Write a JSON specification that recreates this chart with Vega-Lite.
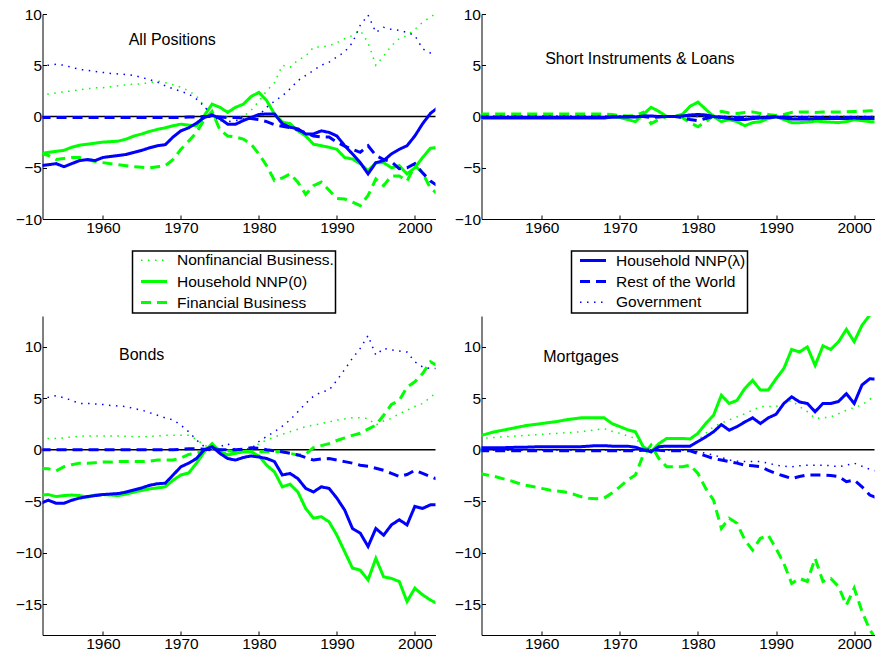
{
  "$schema": "https://vega.github.io/schema/vega-lite/v6.json",
  "padding": {"left": 14.5, "top": 7, "right": 0, "bottom": 0},
  "bounds": "flush",
  "columns": 2,
  "spacing": {"row": 97, "column": 46},
  "data": {
    "values": [
      {"panel": "pos", "year": 1952, "NF": 2.0, "HH0": -3.6, "FB": -3.6, "HHL": -4.8, "RW": -0.1, "GV": 4.9},
      {"panel": "pos", "year": 1953, "NF": 2.2, "HH0": -3.5, "FB": -3.8, "HHL": -4.7, "RW": -0.1, "GV": 5.0},
      {"panel": "pos", "year": 1954, "NF": 2.3, "HH0": -3.4, "FB": -4.2, "HHL": -4.6, "RW": -0.1, "GV": 5.1},
      {"panel": "pos", "year": 1955, "NF": 2.4, "HH0": -3.3, "FB": -4.1, "HHL": -4.9, "RW": -0.1, "GV": 5.0},
      {"panel": "pos", "year": 1956, "NF": 2.5, "HH0": -3.0, "FB": -4.0, "HHL": -4.6, "RW": -0.1, "GV": 4.8},
      {"panel": "pos", "year": 1957, "NF": 2.6, "HH0": -2.8, "FB": -4.0, "HHL": -4.3, "RW": -0.1, "GV": 4.6},
      {"panel": "pos", "year": 1958, "NF": 2.7, "HH0": -2.7, "FB": -4.2, "HHL": -4.2, "RW": -0.1, "GV": 4.5},
      {"panel": "pos", "year": 1959, "NF": 2.8, "HH0": -2.6, "FB": -4.4, "HHL": -4.3, "RW": -0.1, "GV": 4.4},
      {"panel": "pos", "year": 1960, "NF": 2.8, "HH0": -2.5, "FB": -4.5, "HHL": -4.0, "RW": -0.1, "GV": 4.3},
      {"panel": "pos", "year": 1961, "NF": 2.9, "HH0": -2.45, "FB": -4.6, "HHL": -3.9, "RW": -0.1, "GV": 4.2},
      {"panel": "pos", "year": 1962, "NF": 3.0, "HH0": -2.4, "FB": -4.7, "HHL": -3.8, "RW": -0.1, "GV": 4.15},
      {"panel": "pos", "year": 1963, "NF": 3.1, "HH0": -2.2, "FB": -4.8, "HHL": -3.7, "RW": -0.1, "GV": 4.1},
      {"panel": "pos", "year": 1964, "NF": 3.15, "HH0": -1.9, "FB": -4.9, "HHL": -3.5, "RW": -0.1, "GV": 4.0},
      {"panel": "pos", "year": 1965, "NF": 3.2, "HH0": -1.7, "FB": -4.95, "HHL": -3.3, "RW": -0.1, "GV": 3.8},
      {"panel": "pos", "year": 1966, "NF": 3.3, "HH0": -1.45, "FB": -5.0, "HHL": -3.05, "RW": -0.1, "GV": 3.6},
      {"panel": "pos", "year": 1967, "NF": 3.45, "HH0": -1.25, "FB": -4.9, "HHL": -2.85, "RW": -0.1, "GV": 3.35},
      {"panel": "pos", "year": 1968, "NF": 3.3, "HH0": -1.1, "FB": -4.8, "HHL": -2.75, "RW": -0.1, "GV": 3.0},
      {"panel": "pos", "year": 1969, "NF": 3.1, "HH0": -0.9, "FB": -4.2, "HHL": -2.0, "RW": -0.1, "GV": 2.7},
      {"panel": "pos", "year": 1970, "NF": 2.85, "HH0": -0.75, "FB": -3.2, "HHL": -1.4, "RW": -0.1, "GV": 2.45},
      {"panel": "pos", "year": 1971, "NF": 2.5, "HH0": -0.85, "FB": -2.4, "HHL": -1.1, "RW": -0.05, "GV": 2.2},
      {"panel": "pos", "year": 1972, "NF": 2.0, "HH0": -0.9, "FB": -1.55, "HHL": -0.65, "RW": -0.05, "GV": 1.7},
      {"panel": "pos", "year": 1973, "NF": 1.0, "HH0": 0.1, "FB": -0.3, "HHL": -0.1, "RW": 0.0, "GV": 1.0},
      {"panel": "pos", "year": 1974, "NF": -0.1, "HH0": 1.2, "FB": 0.5, "HHL": 0.15, "RW": 0.0, "GV": 0.1},
      {"panel": "pos", "year": 1975, "NF": -0.5, "HH0": 0.9, "FB": -1.3, "HHL": -0.2, "RW": -0.05, "GV": -0.4},
      {"panel": "pos", "year": 1976, "NF": 0.0, "HH0": 0.4, "FB": -1.9, "HHL": -0.75, "RW": -0.1, "GV": -0.5},
      {"panel": "pos", "year": 1977, "NF": -0.1, "HH0": 0.9, "FB": -2.0, "HHL": -0.75, "RW": -0.1, "GV": -0.4},
      {"panel": "pos", "year": 1978, "NF": 0.0, "HH0": 1.2, "FB": -2.2, "HHL": -0.4, "RW": -0.15, "GV": -0.25},
      {"panel": "pos", "year": 1979, "NF": 0.6, "HH0": 1.95, "FB": -2.7, "HHL": -0.1, "RW": -0.2, "GV": -0.1},
      {"panel": "pos", "year": 1980, "NF": 1.5, "HH0": 2.35, "FB": -3.65, "HHL": 0.2, "RW": -0.3, "GV": 0.1},
      {"panel": "pos", "year": 1981, "NF": 2.5, "HH0": 1.55, "FB": -4.8, "HHL": 0.25, "RW": -0.5, "GV": 0.9},
      {"panel": "pos", "year": 1982, "NF": 3.3, "HH0": 0.25, "FB": -6.25, "HHL": 0.25, "RW": -0.8, "GV": 1.5},
      {"panel": "pos", "year": 1983, "NF": 5.0, "HH0": -0.55, "FB": -6.0, "HHL": -0.7, "RW": -0.95, "GV": 2.0},
      {"panel": "pos", "year": 1984, "NF": 4.8, "HH0": -0.7, "FB": -5.6, "HHL": -1.05, "RW": -1.1, "GV": 2.7},
      {"panel": "pos", "year": 1985, "NF": 5.5, "HH0": -1.4, "FB": -6.4, "HHL": -1.2, "RW": -1.3, "GV": 3.5},
      {"panel": "pos", "year": 1986, "NF": 5.9, "HH0": -1.9, "FB": -7.6, "HHL": -1.7, "RW": -1.6, "GV": 4.0},
      {"panel": "pos", "year": 1987, "NF": 6.75, "HH0": -2.7, "FB": -6.75, "HHL": -1.7, "RW": -1.9, "GV": 4.5},
      {"panel": "pos", "year": 1988, "NF": 6.8, "HH0": -2.85, "FB": -6.4, "HHL": -1.4, "RW": -2.0, "GV": 5.0},
      {"panel": "pos", "year": 1989, "NF": 6.9, "HH0": -3.0, "FB": -7.2, "HHL": -1.55, "RW": -2.0, "GV": 5.3},
      {"panel": "pos", "year": 1990, "NF": 7.2, "HH0": -3.2, "FB": -8.0, "HHL": -1.9, "RW": -2.5, "GV": 5.8},
      {"panel": "pos", "year": 1991, "NF": 7.6, "HH0": -4.0, "FB": -8.05, "HHL": -2.85, "RW": -2.9, "GV": 6.3},
      {"panel": "pos", "year": 1992, "NF": 7.9, "HH0": -4.15, "FB": -8.35, "HHL": -3.65, "RW": -3.2, "GV": 7.2},
      {"panel": "pos", "year": 1993, "NF": 8.4, "HH0": -4.6, "FB": -8.7, "HHL": -4.5, "RW": -3.5, "GV": 8.9},
      {"panel": "pos", "year": 1994, "NF": 7.2, "HH0": -5.3, "FB": -7.7, "HHL": -5.6, "RW": -2.85, "GV": 9.9},
      {"panel": "pos", "year": 1995, "NF": 5.0, "HH0": -4.5, "FB": -6.1, "HHL": -4.5, "RW": -3.8, "GV": 8.2},
      {"panel": "pos", "year": 1996, "NF": 5.9, "HH0": -4.5, "FB": -6.75, "HHL": -4.3, "RW": -4.2, "GV": 8.7},
      {"panel": "pos", "year": 1997, "NF": 6.9, "HH0": -5.0, "FB": -5.8, "HHL": -3.65, "RW": -4.4, "GV": 8.5},
      {"panel": "pos", "year": 1998, "NF": 7.6, "HH0": -4.8, "FB": -5.8, "HHL": -3.2, "RW": -5.1, "GV": 8.4},
      {"panel": "pos", "year": 1999, "NF": 7.9, "HH0": -5.6, "FB": -6.3, "HHL": -2.85, "RW": -5.0, "GV": 8.2},
      {"panel": "pos", "year": 2000, "NF": 8.5, "HH0": -5.0, "FB": -4.8, "HHL": -1.9, "RW": -4.6, "GV": 7.9},
      {"panel": "pos", "year": 2001, "NF": 9.2, "HH0": -4.0, "FB": -5.5, "HHL": -0.7, "RW": -5.5, "GV": 6.6},
      {"panel": "pos", "year": 2002, "NF": 9.7, "HH0": -3.1, "FB": -7.0, "HHL": 0.3, "RW": -6.3, "GV": 6.2},
      {"panel": "pos", "year": 2003, "NF": 10.2, "HH0": -3.0, "FB": -7.6, "HHL": 0.9, "RW": -6.8, "GV": 6.1},

      {"panel": "short", "year": 1952, "NF": 0, "HH0": -0.2, "FB": 0.25, "HHL": -0.1, "RW": -0.05, "GV": 0.05},
      {"panel": "short", "year": 1954, "NF": 0, "HH0": -0.2, "FB": 0.25, "HHL": -0.1, "RW": -0.05, "GV": 0.05},
      {"panel": "short", "year": 1956, "NF": 0, "HH0": -0.2, "FB": 0.25, "HHL": -0.1, "RW": -0.05, "GV": 0.05},
      {"panel": "short", "year": 1958, "NF": 0, "HH0": -0.2, "FB": 0.25, "HHL": -0.1, "RW": -0.05, "GV": 0.05},
      {"panel": "short", "year": 1960, "NF": 0, "HH0": -0.2, "FB": 0.25, "HHL": -0.1, "RW": -0.05, "GV": 0.05},
      {"panel": "short", "year": 1962, "NF": 0, "HH0": -0.2, "FB": 0.25, "HHL": -0.1, "RW": -0.05, "GV": 0.05},
      {"panel": "short", "year": 1964, "NF": 0, "HH0": -0.2, "FB": 0.25, "HHL": -0.1, "RW": -0.05, "GV": 0.05},
      {"panel": "short", "year": 1966, "NF": 0, "HH0": -0.2, "FB": 0.25, "HHL": -0.1, "RW": -0.05, "GV": 0.05},
      {"panel": "short", "year": 1968, "NF": 0, "HH0": -0.2, "FB": 0.25, "HHL": -0.1, "RW": -0.05, "GV": 0.05},
      {"panel": "short", "year": 1969, "NF": 0, "HH0": 0.0, "FB": 0.2, "HHL": -0.05, "RW": -0.05, "GV": 0.05},
      {"panel": "short", "year": 1970, "NF": 0, "HH0": -0.1, "FB": 0.1, "HHL": -0.05, "RW": 0, "GV": 0.05},
      {"panel": "short", "year": 1971, "NF": 0, "HH0": -0.3, "FB": 0.05, "HHL": -0.05, "RW": 0, "GV": 0.05},
      {"panel": "short", "year": 1972, "NF": 0, "HH0": -0.5, "FB": 0.1, "HHL": -0.05, "RW": 0, "GV": 0.05},
      {"panel": "short", "year": 1973, "NF": 0, "HH0": 0.2, "FB": 0.4, "HHL": 0.05, "RW": 0, "GV": 0},
      {"panel": "short", "year": 1974, "NF": 0, "HH0": 0.9, "FB": -0.7, "HHL": 0.05, "RW": -0.1, "GV": 0},
      {"panel": "short", "year": 1975, "NF": 0, "HH0": 0.5, "FB": -0.3, "HHL": 0, "RW": -0.05, "GV": 0},
      {"panel": "short", "year": 1976, "NF": 0, "HH0": 0.0, "FB": 0.0, "HHL": 0, "RW": 0, "GV": 0},
      {"panel": "short", "year": 1977, "NF": 0, "HH0": 0.0, "FB": 0.0, "HHL": 0, "RW": 0, "GV": 0},
      {"panel": "short", "year": 1978, "NF": 0, "HH0": 0.2, "FB": -0.1, "HHL": 0.05, "RW": -0.1, "GV": 0},
      {"panel": "short", "year": 1979, "NF": 0, "HH0": 1.0, "FB": -0.6, "HHL": 0.15, "RW": -0.3, "GV": 0},
      {"panel": "short", "year": 1980, "NF": 0, "HH0": 1.4, "FB": -1.0, "HHL": 0.2, "RW": -0.4, "GV": 0},
      {"panel": "short", "year": 1981, "NF": 0, "HH0": 0.7, "FB": -0.5, "HHL": 0.15, "RW": -0.2, "GV": 0},
      {"panel": "short", "year": 1982, "NF": 0, "HH0": 0.0, "FB": 0.1, "HHL": 0, "RW": 0, "GV": 0},
      {"panel": "short", "year": 1983, "NF": 0, "HH0": -0.5, "FB": 0.5, "HHL": -0.1, "RW": -0.05, "GV": 0},
      {"panel": "short", "year": 1984, "NF": 0, "HH0": -0.3, "FB": 0.35, "HHL": -0.2, "RW": -0.1, "GV": 0},
      {"panel": "short", "year": 1985, "NF": 0, "HH0": -0.5, "FB": 0.3, "HHL": -0.3, "RW": -0.1, "GV": 0},
      {"panel": "short", "year": 1986, "NF": 0, "HH0": -0.9, "FB": 0.4, "HHL": -0.3, "RW": -0.1, "GV": 0},
      {"panel": "short", "year": 1987, "NF": 0, "HH0": -0.6, "FB": 0.45, "HHL": -0.2, "RW": -0.1, "GV": 0},
      {"panel": "short", "year": 1988, "NF": 0, "HH0": -0.5, "FB": 0.3, "HHL": -0.15, "RW": -0.05, "GV": 0},
      {"panel": "short", "year": 1989, "NF": 0, "HH0": -0.2, "FB": 0.2, "HHL": -0.1, "RW": -0.05, "GV": 0},
      {"panel": "short", "year": 1990, "NF": 0, "HH0": 0.0, "FB": 0.1, "HHL": -0.05, "RW": 0, "GV": 0},
      {"panel": "short", "year": 1991, "NF": 0, "HH0": -0.3, "FB": 0.2, "HHL": -0.15, "RW": -0.05, "GV": 0},
      {"panel": "short", "year": 1992, "NF": 0, "HH0": -0.6, "FB": 0.4, "HHL": -0.25, "RW": -0.1, "GV": 0},
      {"panel": "short", "year": 1993, "NF": 0, "HH0": -0.6, "FB": 0.45, "HHL": -0.25, "RW": -0.1, "GV": 0},
      {"panel": "short", "year": 1994, "NF": 0, "HH0": -0.55, "FB": 0.45, "HHL": -0.25, "RW": -0.1, "GV": 0},
      {"panel": "short", "year": 1995, "NF": 0, "HH0": -0.45, "FB": 0.4, "HHL": -0.2, "RW": -0.1, "GV": 0},
      {"panel": "short", "year": 1996, "NF": 0, "HH0": -0.5, "FB": 0.45, "HHL": -0.2, "RW": -0.1, "GV": 0},
      {"panel": "short", "year": 1997, "NF": 0, "HH0": -0.55, "FB": 0.45, "HHL": -0.2, "RW": -0.1, "GV": 0},
      {"panel": "short", "year": 1998, "NF": 0, "HH0": -0.6, "FB": 0.45, "HHL": -0.2, "RW": -0.1, "GV": 0},
      {"panel": "short", "year": 1999, "NF": 0, "HH0": -0.5, "FB": 0.45, "HHL": -0.2, "RW": -0.1, "GV": 0},
      {"panel": "short", "year": 2000, "NF": 0, "HH0": -0.3, "FB": 0.5, "HHL": -0.15, "RW": -0.1, "GV": 0},
      {"panel": "short", "year": 2001, "NF": 0, "HH0": -0.4, "FB": 0.5, "HHL": -0.2, "RW": -0.1, "GV": 0},
      {"panel": "short", "year": 2002, "NF": 0, "HH0": -0.5, "FB": 0.55, "HHL": -0.2, "RW": -0.1, "GV": 0},
      {"panel": "short", "year": 2003, "NF": 0, "HH0": -0.5, "FB": 0.55, "HHL": -0.2, "RW": -0.1, "GV": 0},

      {"panel": "bonds", "year": 1952, "NF": 1.0, "HH0": -4.4, "FB": -1.8, "HHL": -5.2, "RW": 0.0, "GV": 5.0},
      {"panel": "bonds", "year": 1953, "NF": 1.1, "HH0": -4.35, "FB": -1.85, "HHL": -4.9, "RW": 0.0, "GV": 5.1},
      {"panel": "bonds", "year": 1954, "NF": 1.1, "HH0": -4.55, "FB": -2.05, "HHL": -5.2, "RW": 0.0, "GV": 5.25},
      {"panel": "bonds", "year": 1955, "NF": 1.15, "HH0": -4.45, "FB": -1.65, "HHL": -5.2, "RW": 0.0, "GV": 5.05},
      {"panel": "bonds", "year": 1956, "NF": 1.25, "HH0": -4.4, "FB": -1.45, "HHL": -4.9, "RW": 0.0, "GV": 4.8},
      {"panel": "bonds", "year": 1957, "NF": 1.3, "HH0": -4.45, "FB": -1.3, "HHL": -4.7, "RW": 0.0, "GV": 4.5},
      {"panel": "bonds", "year": 1958, "NF": 1.35, "HH0": -4.6, "FB": -1.3, "HHL": -4.55, "RW": 0.0, "GV": 4.5},
      {"panel": "bonds", "year": 1959, "NF": 1.35, "HH0": -4.4, "FB": -1.25, "HHL": -4.45, "RW": 0.0, "GV": 4.45},
      {"panel": "bonds", "year": 1960, "NF": 1.35, "HH0": -4.35, "FB": -1.2, "HHL": -4.35, "RW": 0.0, "GV": 4.4},
      {"panel": "bonds", "year": 1961, "NF": 1.35, "HH0": -4.4, "FB": -1.2, "HHL": -4.3, "RW": 0.0, "GV": 4.3},
      {"panel": "bonds", "year": 1962, "NF": 1.35, "HH0": -4.45, "FB": -1.15, "HHL": -4.25, "RW": 0.0, "GV": 4.25},
      {"panel": "bonds", "year": 1963, "NF": 1.3, "HH0": -4.3, "FB": -1.15, "HHL": -4.1, "RW": 0.0, "GV": 4.2},
      {"panel": "bonds", "year": 1964, "NF": 1.3, "HH0": -4.1, "FB": -1.15, "HHL": -3.9, "RW": 0.0, "GV": 4.0},
      {"panel": "bonds", "year": 1965, "NF": 1.25, "HH0": -3.95, "FB": -1.15, "HHL": -3.7, "RW": 0.0, "GV": 3.85},
      {"panel": "bonds", "year": 1966, "NF": 1.3, "HH0": -3.8, "FB": -1.1, "HHL": -3.45, "RW": 0.0, "GV": 3.6},
      {"panel": "bonds", "year": 1967, "NF": 1.35, "HH0": -3.7, "FB": -1.0, "HHL": -3.3, "RW": 0.0, "GV": 3.35},
      {"panel": "bonds", "year": 1968, "NF": 1.4, "HH0": -3.6, "FB": -1.0, "HHL": -3.25, "RW": 0.0, "GV": 3.1},
      {"panel": "bonds", "year": 1969, "NF": 1.4, "HH0": -2.95, "FB": -1.0, "HHL": -2.45, "RW": 0.0, "GV": 2.9},
      {"panel": "bonds", "year": 1970, "NF": 1.4, "HH0": -2.45, "FB": -0.8, "HHL": -1.65, "RW": 0.05, "GV": 2.4},
      {"panel": "bonds", "year": 1971, "NF": 1.4, "HH0": -2.25, "FB": -0.45, "HHL": -1.3, "RW": 0.1, "GV": 1.75},
      {"panel": "bonds", "year": 1972, "NF": 1.0, "HH0": -1.3, "FB": -0.35, "HHL": -0.85, "RW": 0.1, "GV": 0.95},
      {"panel": "bonds", "year": 1973, "NF": 0.45, "HH0": -0.2, "FB": -0.1, "HHL": 0.0, "RW": 0.05, "GV": 0.3},
      {"panel": "bonds", "year": 1974, "NF": 0.1, "HH0": 0.6, "FB": 0.3, "HHL": 0.3, "RW": 0.0, "GV": 0.0},
      {"panel": "bonds", "year": 1975, "NF": -0.35, "HH0": -0.2, "FB": 0.0, "HHL": -0.35, "RW": 0.0, "GV": 0.3},
      {"panel": "bonds", "year": 1976, "NF": -0.3, "HH0": -0.5, "FB": -0.1, "HHL": -0.85, "RW": 0.0, "GV": 0.6},
      {"panel": "bonds", "year": 1977, "NF": -0.2, "HH0": -0.35, "FB": -0.2, "HHL": -1.0, "RW": 0.0, "GV": 0.0},
      {"panel": "bonds", "year": 1978, "NF": -0.1, "HH0": -0.2, "FB": -0.2, "HHL": -0.75, "RW": 0.05, "GV": 0.05},
      {"panel": "bonds", "year": 1979, "NF": 0.0, "HH0": -0.2, "FB": -0.2, "HHL": -0.6, "RW": 0.2, "GV": 0.1},
      {"panel": "bonds", "year": 1980, "NF": 0.6, "HH0": -0.6, "FB": -0.2, "HHL": -0.7, "RW": 0.15, "GV": 0.8},
      {"panel": "bonds", "year": 1981, "NF": 0.95, "HH0": -1.5, "FB": -0.2, "HHL": -0.85, "RW": 0.0, "GV": 1.3},
      {"panel": "bonds", "year": 1982, "NF": 1.25, "HH0": -2.15, "FB": -0.2, "HHL": -1.15, "RW": -0.1, "GV": 1.75},
      {"panel": "bonds", "year": 1983, "NF": 1.5, "HH0": -3.6, "FB": -0.2, "HHL": -2.45, "RW": -0.2, "GV": 2.3},
      {"panel": "bonds", "year": 1984, "NF": 1.75, "HH0": -3.35, "FB": -0.35, "HHL": -2.3, "RW": -0.35, "GV": 2.9},
      {"panel": "bonds", "year": 1985, "NF": 2.0, "HH0": -4.1, "FB": -0.5, "HHL": -2.8, "RW": -0.5, "GV": 3.7},
      {"panel": "bonds", "year": 1986, "NF": 2.25, "HH0": -5.7, "FB": -0.45, "HHL": -3.75, "RW": -0.75, "GV": 4.5},
      {"panel": "bonds", "year": 1987, "NF": 2.4, "HH0": -6.65, "FB": 0.2, "HHL": -4.1, "RW": -1.0, "GV": 5.2},
      {"panel": "bonds", "year": 1988, "NF": 2.55, "HH0": -6.5, "FB": 0.4, "HHL": -3.6, "RW": -0.9, "GV": 5.6},
      {"panel": "bonds", "year": 1989, "NF": 2.7, "HH0": -7.0, "FB": 0.6, "HHL": -3.75, "RW": -0.85, "GV": 5.8},
      {"panel": "bonds", "year": 1990, "NF": 2.9, "HH0": -8.3, "FB": 0.9, "HHL": -4.7, "RW": -1.0, "GV": 6.75},
      {"panel": "bonds", "year": 1991, "NF": 3.0, "HH0": -9.9, "FB": 1.15, "HHL": -5.85, "RW": -1.15, "GV": 7.8},
      {"panel": "bonds", "year": 1992, "NF": 3.1, "HH0": -11.5, "FB": 1.4, "HHL": -7.65, "RW": -1.3, "GV": 8.9},
      {"panel": "bonds", "year": 1993, "NF": 3.1, "HH0": -11.7, "FB": 1.6, "HHL": -8.1, "RW": -1.5, "GV": 9.85},
      {"panel": "bonds", "year": 1994, "NF": 3.05, "HH0": -12.65, "FB": 2.0, "HHL": -9.4, "RW": -1.6, "GV": 11.1},
      {"panel": "bonds", "year": 1995, "NF": 2.4, "HH0": -10.55, "FB": 2.4, "HHL": -7.65, "RW": -1.8, "GV": 9.2},
      {"panel": "bonds", "year": 1996, "NF": 2.8, "HH0": -12.35, "FB": 3.35, "HHL": -8.3, "RW": -2.0, "GV": 9.85},
      {"panel": "bonds", "year": 1997, "NF": 3.05, "HH0": -12.5, "FB": 4.4, "HHL": -7.3, "RW": -2.3, "GV": 9.7},
      {"panel": "bonds", "year": 1998, "NF": 3.5, "HH0": -12.8, "FB": 4.8, "HHL": -6.8, "RW": -2.6, "GV": 9.6},
      {"panel": "bonds", "year": 1999, "NF": 3.85, "HH0": -14.75, "FB": 6.1, "HHL": -7.3, "RW": -2.4, "GV": 9.5},
      {"panel": "bonds", "year": 2000, "NF": 4.2, "HH0": -13.45, "FB": 6.6, "HHL": -5.5, "RW": -2.0, "GV": 8.55},
      {"panel": "bonds", "year": 2001, "NF": 4.5, "HH0": -14.1, "FB": 7.4, "HHL": -5.7, "RW": -2.3, "GV": 8.05},
      {"panel": "bonds", "year": 2002, "NF": 5.1, "HH0": -14.6, "FB": 8.55, "HHL": -5.35, "RW": -2.6, "GV": 7.9},
      {"panel": "bonds", "year": 2003, "NF": 5.7, "HH0": -15.0, "FB": 8.1, "HHL": -5.35, "RW": -2.9, "GV": 7.9},

      {"panel": "mort", "year": 1952, "NF": 1.1, "HH0": 1.35, "FB": -2.3, "HHL": 0.2, "RW": -0.1, "GV": -0.05},
      {"panel": "mort", "year": 1953, "NF": 1.15, "HH0": 1.55, "FB": -2.45, "HHL": 0.2, "RW": -0.1, "GV": -0.05},
      {"panel": "mort", "year": 1954, "NF": 1.2, "HH0": 1.75, "FB": -2.6, "HHL": 0.2, "RW": -0.1, "GV": -0.05},
      {"panel": "mort", "year": 1955, "NF": 1.25, "HH0": 1.9, "FB": -2.8, "HHL": 0.2, "RW": -0.1, "GV": -0.05},
      {"panel": "mort", "year": 1956, "NF": 1.3, "HH0": 2.05, "FB": -3.0, "HHL": 0.22, "RW": -0.1, "GV": -0.05},
      {"panel": "mort", "year": 1957, "NF": 1.35, "HH0": 2.2, "FB": -3.25, "HHL": 0.25, "RW": -0.1, "GV": -0.05},
      {"panel": "mort", "year": 1958, "NF": 1.4, "HH0": 2.35, "FB": -3.45, "HHL": 0.25, "RW": -0.1, "GV": -0.05},
      {"panel": "mort", "year": 1959, "NF": 1.45, "HH0": 2.45, "FB": -3.6, "HHL": 0.28, "RW": -0.1, "GV": -0.05},
      {"panel": "mort", "year": 1960, "NF": 1.5, "HH0": 2.55, "FB": -3.75, "HHL": 0.3, "RW": -0.1, "GV": -0.05},
      {"panel": "mort", "year": 1961, "NF": 1.55, "HH0": 2.65, "FB": -3.9, "HHL": 0.3, "RW": -0.1, "GV": -0.05},
      {"panel": "mort", "year": 1962, "NF": 1.6, "HH0": 2.75, "FB": -4.0, "HHL": 0.3, "RW": -0.1, "GV": -0.05},
      {"panel": "mort", "year": 1963, "NF": 1.65, "HH0": 2.9, "FB": -4.1, "HHL": 0.3, "RW": -0.1, "GV": -0.05},
      {"panel": "mort", "year": 1964, "NF": 1.7, "HH0": 3.0, "FB": -4.3, "HHL": 0.3, "RW": -0.1, "GV": -0.05},
      {"panel": "mort", "year": 1965, "NF": 1.75, "HH0": 3.1, "FB": -4.55, "HHL": 0.3, "RW": -0.1, "GV": -0.05},
      {"panel": "mort", "year": 1966, "NF": 1.85, "HH0": 3.1, "FB": -4.7, "HHL": 0.35, "RW": -0.1, "GV": -0.05},
      {"panel": "mort", "year": 1967, "NF": 1.95, "HH0": 3.1, "FB": -4.75, "HHL": 0.4, "RW": -0.1, "GV": -0.05},
      {"panel": "mort", "year": 1968, "NF": 2.05, "HH0": 3.1, "FB": -4.7, "HHL": 0.4, "RW": -0.1, "GV": -0.05},
      {"panel": "mort", "year": 1969, "NF": 1.8, "HH0": 2.55, "FB": -4.2, "HHL": 0.35, "RW": -0.1, "GV": -0.05},
      {"panel": "mort", "year": 1970, "NF": 1.6, "HH0": 2.25, "FB": -3.6, "HHL": 0.35, "RW": -0.1, "GV": -0.05},
      {"panel": "mort", "year": 1971, "NF": 1.35, "HH0": 1.95, "FB": -2.95, "HHL": 0.35, "RW": -0.1, "GV": -0.05},
      {"panel": "mort", "year": 1972, "NF": 1.1, "HH0": 1.75, "FB": -2.45, "HHL": 0.25, "RW": -0.1, "GV": -0.05},
      {"panel": "mort", "year": 1973, "NF": 0.3, "HH0": 0.3, "FB": -0.5, "HHL": 0.0, "RW": -0.05, "GV": 0.0},
      {"panel": "mort", "year": 1974, "NF": 0.0, "HH0": -0.2, "FB": 0.45, "HHL": -0.2, "RW": 0.0, "GV": 0.0},
      {"panel": "mort", "year": 1975, "NF": 0.15, "HH0": 0.6, "FB": -0.85, "HHL": 0.3, "RW": -0.05, "GV": -0.05},
      {"panel": "mort", "year": 1976, "NF": 0.3, "HH0": 1.1, "FB": -1.65, "HHL": 0.35, "RW": -0.1, "GV": -0.05},
      {"panel": "mort", "year": 1977, "NF": 0.3, "HH0": 1.1, "FB": -1.65, "HHL": 0.35, "RW": -0.1, "GV": -0.05},
      {"panel": "mort", "year": 1978, "NF": 0.3, "HH0": 1.1, "FB": -1.65, "HHL": 0.35, "RW": -0.1, "GV": -0.05},
      {"panel": "mort", "year": 1979, "NF": 0.3, "HH0": 1.05, "FB": -1.5, "HHL": 0.35, "RW": -0.1, "GV": -0.05},
      {"panel": "mort", "year": 1980, "NF": 0.95, "HH0": 1.6, "FB": -2.3, "HHL": 0.8, "RW": -0.35, "GV": -0.2},
      {"panel": "mort", "year": 1981, "NF": 1.6, "HH0": 2.55, "FB": -3.75, "HHL": 1.25, "RW": -0.6, "GV": -0.35},
      {"panel": "mort", "year": 1982, "NF": 2.25, "HH0": 3.35, "FB": -4.9, "HHL": 1.75, "RW": -0.85, "GV": -0.5},
      {"panel": "mort", "year": 1983, "NF": 2.6, "HH0": 5.3, "FB": -7.65, "HHL": 2.45, "RW": -1.0, "GV": -0.75},
      {"panel": "mort", "year": 1984, "NF": 2.9, "HH0": 4.5, "FB": -6.65, "HHL": 1.9, "RW": -1.15, "GV": -1.0},
      {"panel": "mort", "year": 1985, "NF": 3.2, "HH0": 4.8, "FB": -7.15, "HHL": 2.25, "RW": -1.3, "GV": -1.1},
      {"panel": "mort", "year": 1986, "NF": 3.5, "HH0": 5.95, "FB": -8.75, "HHL": 2.7, "RW": -1.5, "GV": -1.15},
      {"panel": "mort", "year": 1987, "NF": 3.85, "HH0": 6.75, "FB": -9.75, "HHL": 3.1, "RW": -1.55, "GV": -1.15},
      {"panel": "mort", "year": 1988, "NF": 4.2, "HH0": 5.8, "FB": -8.6, "HHL": 2.55, "RW": -1.65, "GV": -1.15},
      {"panel": "mort", "year": 1989, "NF": 4.2, "HH0": 5.8, "FB": -8.3, "HHL": 3.1, "RW": -2.0, "GV": -1.3},
      {"panel": "mort", "year": 1990, "NF": 4.2, "HH0": 6.9, "FB": -9.6, "HHL": 3.45, "RW": -2.3, "GV": -1.5},
      {"panel": "mort", "year": 1991, "NF": 4.5, "HH0": 7.9, "FB": -11.05, "HHL": 4.5, "RW": -2.55, "GV": -1.6},
      {"panel": "mort", "year": 1992, "NF": 4.8, "HH0": 9.75, "FB": -13.0, "HHL": 5.15, "RW": -2.8, "GV": -1.65},
      {"panel": "mort", "year": 1993, "NF": 4.2, "HH0": 9.5, "FB": -12.5, "HHL": 4.65, "RW": -2.6, "GV": -1.55},
      {"panel": "mort", "year": 1994, "NF": 3.7, "HH0": 10.0, "FB": -12.8, "HHL": 4.5, "RW": -2.45, "GV": -1.5},
      {"panel": "mort", "year": 1995, "NF": 3.05, "HH0": 8.2, "FB": -10.55, "HHL": 3.7, "RW": -2.45, "GV": -1.5},
      {"panel": "mort", "year": 1996, "NF": 3.1, "HH0": 10.1, "FB": -12.8, "HHL": 4.5, "RW": -2.45, "GV": -1.5},
      {"panel": "mort", "year": 1997, "NF": 3.2, "HH0": 9.75, "FB": -12.5, "HHL": 4.5, "RW": -2.5, "GV": -1.55},
      {"panel": "mort", "year": 1998, "NF": 3.5, "HH0": 10.5, "FB": -13.3, "HHL": 4.7, "RW": -2.6, "GV": -1.65},
      {"panel": "mort", "year": 1999, "NF": 3.85, "HH0": 11.7, "FB": -15.1, "HHL": 5.45, "RW": -3.1, "GV": -1.5},
      {"panel": "mort", "year": 2000, "NF": 4.1, "HH0": 10.5, "FB": -13.45, "HHL": 4.5, "RW": -2.95, "GV": -1.3},
      {"panel": "mort", "year": 2001, "NF": 4.35, "HH0": 12.1, "FB": -15.7, "HHL": 6.3, "RW": -3.6, "GV": -1.6},
      {"panel": "mort", "year": 2002, "NF": 4.9, "HH0": 13.1, "FB": -17.5, "HHL": 6.9, "RW": -4.4, "GV": -1.9},
      {"panel": "mort", "year": 2003, "NF": 5.5, "HH0": 13.6, "FB": -18.6, "HHL": 6.85, "RW": -4.7, "GV": -2.1}
    ]
  },
  "concat": [
    {
      "width": 393,
      "height": 205,
      "layer": [
        {
          "data": {"values": [{}]},
          "mark": {"type": "rule", "color": "black", "strokeWidth": 1.3},
          "encoding": {"y": {"datum": 0, "type": "quantitative"}}
        },
        {
          "transform": [
            {"filter": "datum.panel == 'pos'"},
            {"fold": ["NF", "HH0", "FB"], "as": ["series", "value"]}
          ],
          "mark": {"type": "line", "clip": true},
          "encoding": {
            "x": {"field": "year", "type": "quantitative", "scale": {"domain": [1952.25, 2002.65], "nice": false, "zero": false}, "axis": {"values": [1960, 1970, 1980, 1990, 2000], "format": "d", "title": null}},
            "y": {"field": "value", "type": "quantitative", "scale": {"domain": [-10, 10], "nice": false}, "axis": {"values": [-10, -5, 0, 5, 10], "title": null}},
            "color": {"field": "series", "type": "nominal", "scale": {"domain": ["NF", "HH0", "FB"], "range": ["#00ff00", "#00ff00", "#00ff00"]},
              "legend": {"orient": "none", "legendX": 90, "legendY": 237, "title": null, "symbolType": "M-2,0H2", "symbolSize": 169, "symbolOffset": 12, "labelOffset": 15, "labelFontSize": 15.5, "labelLimit": 300, "rowPadding": 4, "padding": 1.5, "strokeColor": "black", "fillColor": "white",
                "labelExpr": "datum.label == 'NF' ? 'Nonfinancial Business.' : datum.label == 'HH0' ? 'Household NNP(0)' : 'Financial Business'"}},
            "strokeDash": {"field": "series", "type": "nominal", "scale": {"domain": ["NF", "HH0", "FB"], "range": [[1.5, 5.5], [1, 0], [10, 6]]},
              "legend": {"orient": "none", "legendX": 90, "legendY": 237, "title": null, "symbolType": "M-2,0H2", "symbolSize": 169, "symbolOffset": 12, "labelOffset": 15, "labelFontSize": 15.5, "labelLimit": 300, "rowPadding": 4, "padding": 1.5, "strokeColor": "black", "fillColor": "white",
                "labelExpr": "datum.label == 'NF' ? 'Nonfinancial Business.' : datum.label == 'HH0' ? 'Household NNP(0)' : 'Financial Business'"}},
            "strokeWidth": {"field": "series", "type": "nominal", "scale": {"type": "ordinal", "domain": ["NF", "HH0", "FB"], "range": [1.5, 3, 3]},
              "legend": {"orient": "none", "legendX": 90, "legendY": 237, "title": null, "symbolType": "M-2,0H2", "symbolSize": 169, "symbolOffset": 12, "labelOffset": 15, "labelFontSize": 15.5, "labelLimit": 300, "rowPadding": 4, "padding": 1.5, "strokeColor": "black", "fillColor": "white",
                "labelExpr": "datum.label == 'NF' ? 'Nonfinancial Business.' : datum.label == 'HH0' ? 'Household NNP(0)' : 'Financial Business'"}}
          }
        },
        {
          "transform": [
            {"filter": "datum.panel == 'pos'"},
            {"fold": ["HHL", "RW", "GV"], "as": ["series", "value"]}
          ],
          "mark": {"type": "line", "clip": true},
          "encoding": {
            "x": {"field": "year", "type": "quantitative"},
            "y": {"field": "value", "type": "quantitative"},
            "color": {"field": "series", "type": "nominal", "scale": {"domain": ["HHL", "RW", "GV"], "range": ["#0000ff", "#0000ff", "#0000ff"]},
              "legend": {"orient": "none", "legendX": 529, "legendY": 237, "title": null, "symbolType": "M-2,0H2", "symbolSize": 169, "symbolOffset": 12, "labelOffset": 15, "labelFontSize": 15.5, "labelLimit": 300, "rowPadding": 4, "padding": 1.5, "strokeColor": "black", "fillColor": "white",
                "labelExpr": "datum.label == 'HHL' ? 'Household NNP(λ)' : datum.label == 'RW' ? 'Rest of the World' : 'Government'"}},
            "strokeDash": {"field": "series", "type": "nominal", "scale": {"domain": ["HHL", "RW", "GV"], "range": [[1, 0], [10, 6], [1.5, 5.5]]},
              "legend": {"orient": "none", "legendX": 529, "legendY": 237, "title": null, "symbolType": "M-2,0H2", "symbolSize": 169, "symbolOffset": 12, "labelOffset": 15, "labelFontSize": 15.5, "labelLimit": 300, "rowPadding": 4, "padding": 1.5, "strokeColor": "black", "fillColor": "white",
                "labelExpr": "datum.label == 'HHL' ? 'Household NNP(λ)' : datum.label == 'RW' ? 'Rest of the World' : 'Government'"}},
            "strokeWidth": {"field": "series", "type": "nominal", "scale": {"type": "ordinal", "domain": ["HHL", "RW", "GV"], "range": [3, 3, 1.5]},
              "legend": {"orient": "none", "legendX": 529, "legendY": 237, "title": null, "symbolType": "M-2,0H2", "symbolSize": 169, "symbolOffset": 12, "labelOffset": 15, "labelFontSize": 15.5, "labelLimit": 300, "rowPadding": 4, "padding": 1.5, "strokeColor": "black", "fillColor": "white",
                "labelExpr": "datum.label == 'HHL' ? 'Household NNP(λ)' : datum.label == 'RW' ? 'Rest of the World' : 'Government'"}}
          }
        },
        {
          "data": {"values": [{"label": "All Positions"}]},
          "mark": {"type": "text", "align": "left", "baseline": "middle", "fontSize": 16},
          "encoding": {"text": {"field": "label"}, "x": {"datum": 1963.3, "type": "quantitative"}, "y": {"datum": 7.5, "type": "quantitative"}}
        }
      ],
      "resolve": {"scale": {"color": "independent", "strokeDash": "independent", "strokeWidth": "independent"}}
    },
    {
      "width": 393,
      "height": 205,
      "layer": [
        {
          "data": {"values": [{}]},
          "mark": {"type": "rule", "color": "black", "strokeWidth": 1.3},
          "encoding": {"y": {"datum": 0, "type": "quantitative"}}
        },
        {
          "transform": [
            {"filter": "datum.panel == 'short'"},
            {"fold": ["NF", "HH0", "FB"], "as": ["series", "value"]}
          ],
          "mark": {"type": "line", "clip": true},
          "encoding": {
            "x": {"field": "year", "type": "quantitative", "scale": {"domain": [1952.3, 2002.6], "nice": false, "zero": false}, "axis": {"values": [1960, 1970, 1980, 1990, 2000], "format": "d", "title": null}},
            "y": {"field": "value", "type": "quantitative", "scale": {"domain": [-10, 10], "nice": false}, "axis": {"values": [-10, -5, 0, 5, 10], "title": null}},
            "color": {"field": "series", "type": "nominal", "scale": {"domain": ["NF", "HH0", "FB"], "range": ["#00ff00", "#00ff00", "#00ff00"]}, "legend": null},
            "strokeDash": {"field": "series", "type": "nominal", "scale": {"domain": ["NF", "HH0", "FB"], "range": [[1.5, 5.5], [1, 0], [10, 6]]}, "legend": null},
            "strokeWidth": {"field": "series", "type": "nominal", "scale": {"type": "ordinal", "domain": ["NF", "HH0", "FB"], "range": [1.5, 3, 3]}, "legend": null}
          }
        },
        {
          "transform": [
            {"filter": "datum.panel == 'short'"},
            {"fold": ["HHL", "RW", "GV"], "as": ["series", "value"]}
          ],
          "mark": {"type": "line", "clip": true},
          "encoding": {
            "x": {"field": "year", "type": "quantitative"},
            "y": {"field": "value", "type": "quantitative"},
            "color": {"field": "series", "type": "nominal", "scale": {"domain": ["HHL", "RW", "GV"], "range": ["#0000ff", "#0000ff", "#0000ff"]}, "legend": null},
            "strokeDash": {"field": "series", "type": "nominal", "scale": {"domain": ["HHL", "RW", "GV"], "range": [[1, 0], [10, 6], [1.5, 5.5]]}, "legend": null},
            "strokeWidth": {"field": "series", "type": "nominal", "scale": {"type": "ordinal", "domain": ["HHL", "RW", "GV"], "range": [3, 3, 1.5]}, "legend": null}
          }
        },
        {
          "data": {"values": [{"label": "Short Instruments & Loans"}]},
          "mark": {"type": "text", "align": "left", "baseline": "middle", "fontSize": 16},
          "encoding": {"text": {"field": "label"}, "x": {"datum": 1960.45, "type": "quantitative"}, "y": {"datum": 5.6, "type": "quantitative"}}
        }
      ],
      "resolve": {"scale": {"color": "independent", "strokeDash": "independent", "strokeWidth": "independent"}}
    },
    {
      "width": 393,
      "height": 319,
      "layer": [
        {
          "data": {"values": [{}]},
          "mark": {"type": "rule", "color": "black", "strokeWidth": 1.3},
          "encoding": {"y": {"datum": 0, "type": "quantitative"}}
        },
        {
          "transform": [
            {"filter": "datum.panel == 'bonds'"},
            {"fold": ["NF", "HH0", "FB"], "as": ["series", "value"]}
          ],
          "mark": {"type": "line", "clip": true},
          "encoding": {
            "x": {"field": "year", "type": "quantitative", "scale": {"domain": [1952.25, 2002.65], "nice": false, "zero": false}, "axis": {"values": [1960, 1970, 1980, 1990, 2000], "format": "d", "title": null}},
            "y": {"field": "value", "type": "quantitative", "scale": {"domain": [-18, 13], "nice": false}, "axis": {"values": [-15, -10, -5, 0, 5, 10], "title": null}},
            "color": {"field": "series", "type": "nominal", "scale": {"domain": ["NF", "HH0", "FB"], "range": ["#00ff00", "#00ff00", "#00ff00"]}, "legend": null},
            "strokeDash": {"field": "series", "type": "nominal", "scale": {"domain": ["NF", "HH0", "FB"], "range": [[1.5, 5.5], [1, 0], [10, 6]]}, "legend": null},
            "strokeWidth": {"field": "series", "type": "nominal", "scale": {"type": "ordinal", "domain": ["NF", "HH0", "FB"], "range": [1.5, 3, 3]}, "legend": null}
          }
        },
        {
          "transform": [
            {"filter": "datum.panel == 'bonds'"},
            {"fold": ["HHL", "RW", "GV"], "as": ["series", "value"]}
          ],
          "mark": {"type": "line", "clip": true},
          "encoding": {
            "x": {"field": "year", "type": "quantitative"},
            "y": {"field": "value", "type": "quantitative"},
            "color": {"field": "series", "type": "nominal", "scale": {"domain": ["HHL", "RW", "GV"], "range": ["#0000ff", "#0000ff", "#0000ff"]}, "legend": null},
            "strokeDash": {"field": "series", "type": "nominal", "scale": {"domain": ["HHL", "RW", "GV"], "range": [[1, 0], [10, 6], [1.5, 5.5]]}, "legend": null},
            "strokeWidth": {"field": "series", "type": "nominal", "scale": {"type": "ordinal", "domain": ["HHL", "RW", "GV"], "range": [3, 3, 1.5]}, "legend": null}
          }
        },
        {
          "data": {"values": [{"label": "Bonds"}]},
          "mark": {"type": "text", "align": "left", "baseline": "middle", "fontSize": 16},
          "encoding": {"text": {"field": "label"}, "x": {"datum": 1962.06, "type": "quantitative"}, "y": {"datum": 9.25, "type": "quantitative"}}
        }
      ],
      "resolve": {"scale": {"color": "independent", "strokeDash": "independent", "strokeWidth": "independent"}}
    },
    {
      "width": 393,
      "height": 319,
      "layer": [
        {
          "data": {"values": [{}]},
          "mark": {"type": "rule", "color": "black", "strokeWidth": 1.3},
          "encoding": {"y": {"datum": 0, "type": "quantitative"}}
        },
        {
          "transform": [
            {"filter": "datum.panel == 'mort'"},
            {"fold": ["NF", "HH0", "FB"], "as": ["series", "value"]}
          ],
          "mark": {"type": "line", "clip": true},
          "encoding": {
            "x": {"field": "year", "type": "quantitative", "scale": {"domain": [1952.3, 2002.6], "nice": false, "zero": false}, "axis": {"values": [1960, 1970, 1980, 1990, 2000], "format": "d", "title": null}},
            "y": {"field": "value", "type": "quantitative", "scale": {"domain": [-18, 13], "nice": false}, "axis": {"values": [-15, -10, -5, 0, 5, 10], "title": null}},
            "color": {"field": "series", "type": "nominal", "scale": {"domain": ["NF", "HH0", "FB"], "range": ["#00ff00", "#00ff00", "#00ff00"]}, "legend": null},
            "strokeDash": {"field": "series", "type": "nominal", "scale": {"domain": ["NF", "HH0", "FB"], "range": [[1.5, 5.5], [1, 0], [10, 6]]}, "legend": null},
            "strokeWidth": {"field": "series", "type": "nominal", "scale": {"type": "ordinal", "domain": ["NF", "HH0", "FB"], "range": [1.5, 3, 3]}, "legend": null}
          }
        },
        {
          "transform": [
            {"filter": "datum.panel == 'mort'"},
            {"fold": ["HHL", "RW", "GV"], "as": ["series", "value"]}
          ],
          "mark": {"type": "line", "clip": true},
          "encoding": {
            "x": {"field": "year", "type": "quantitative"},
            "y": {"field": "value", "type": "quantitative"},
            "color": {"field": "series", "type": "nominal", "scale": {"domain": ["HHL", "RW", "GV"], "range": ["#0000ff", "#0000ff", "#0000ff"]}, "legend": null},
            "strokeDash": {"field": "series", "type": "nominal", "scale": {"domain": ["HHL", "RW", "GV"], "range": [[1, 0], [10, 6], [1.5, 5.5]]}, "legend": null},
            "strokeWidth": {"field": "series", "type": "nominal", "scale": {"type": "ordinal", "domain": ["HHL", "RW", "GV"], "range": [3, 3, 1.5]}, "legend": null}
          }
        },
        {
          "data": {"values": [{"label": "Mortgages"}]},
          "mark": {"type": "text", "align": "left", "baseline": "middle", "fontSize": 16},
          "encoding": {"text": {"field": "label"}, "x": {"datum": 1960.2, "type": "quantitative"}, "y": {"datum": 9.03, "type": "quantitative"}}
        }
      ],
      "resolve": {"scale": {"color": "independent", "strokeDash": "independent", "strokeWidth": "independent"}}
    }
  ],
  "config": {
    "font": "Liberation Sans",
    "view": {"stroke": null},
    "axis": {
      "grid": false,
      "domainColor": "black",
      "domainWidth": 1,
      "tickColor": "black",
      "tickSize": -4,
      "labelColor": "black",
      "labelFont": "Liberation Sans",
      "labelFontSize": 15.5,
      "labelPadding": 5
    },
    "legend": {"labelFont": "Liberation Sans", "labelColor": "black", "strokeWidth": 1.5},
    "text": {"font": "Liberation Sans", "color": "black"}
  }
}
